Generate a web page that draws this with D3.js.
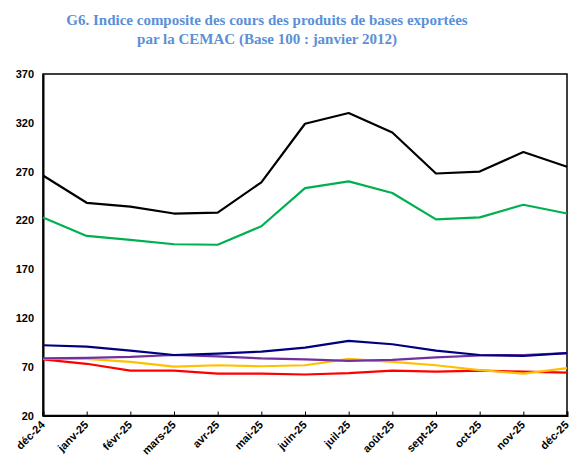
<!DOCTYPE html>
<html><head><meta charset="utf-8">
<script src="https://cdn.jsdelivr.net/npm/d3@7"></script>
<style>body{margin:0;background:#fff}</style>
</head><body>
<script>
const categories = ["déc-24","janv-25","févr-25","mars-25","avr-25","mai-25","juin-25","juil-25","août-25","sept-25","oct-25","nov-25","déc-25"];
const seriesBlack  = [266, 238, 234, 227, 228, 259, 319, 330, 310, 268, 270, 290, 275];
const seriesGreen  = [223, 204, 200, 195.5, 195, 214, 253, 260, 248, 221, 223, 236, 227];
const seriesNavy   = [92, 90.5, 86.5, 82, 83.5, 85.5, 89.5, 96.5, 93, 86.5, 82, 81, 84];
const seriesPurple = [78.5, 79, 80, 82, 80.5, 78.5, 77.5, 76, 77, 79.5, 81.5, 82, 84];
const seriesYellow = [78, 78, 75, 70, 71.5, 70.5, 71.5, 78, 75, 71.5, 66.5, 63, 68.5];
const seriesRed    = [77.5, 73, 66, 66, 63, 63, 62, 63.5, 66, 65, 66, 65, 64];
const yTicks = [20, 70, 120, 170, 220, 270, 320, 370];
const titleLines = ["G6. Indice composite des cours des produits de bases exportées", "par la CEMAC (Base 100 : janvier 2012)"];

const W = 573, H = 459;
const m = {left: 43, right: 6, top: 74, bottom: 44};
const svg = d3.select("body").append("svg").attr("width", W).attr("height", H);

svg.selectAll("text.title").data(titleLines).enter().append("text")
  .attr("x", 267).attr("y", (d,i) => 25 + i*19)
  .attr("text-anchor", "middle")
  .style("font-family", "'Liberation Serif','Times New Roman',serif")
  .style("font-weight", "bold").style("font-size", "15px")
  .attr("fill", "#5B8FD8").text(d => d);

const x = d3.scalePoint().domain(categories).range([m.left, W - m.right]);
const y = d3.scaleLinear().domain([20, 370]).range([H - m.bottom + 0.5, m.top]);

const g = svg.append("g");
// frame
g.append("rect").attr("x", m.left).attr("y", m.top)
  .attr("width", W - m.right - m.left).attr("height", y(20) - m.top)
  .attr("fill", "none").attr("stroke", "#000").attr("stroke-width", 1.5);

// y axis
const yAxis = d3.axisLeft(y).tickValues(yTicks).tickSize(0).tickPadding(9);
const ya = g.append("g").attr("transform", `translate(${m.left},0)`).call(yAxis);
ya.select(".domain").attr("stroke", "#000").attr("stroke-width", 2);
ya.selectAll("text").style("font-family", "'Liberation Sans',Arial,sans-serif")
  .style("font-weight", "bold").style("font-size", "11px").attr("fill", "#000");

// x axis
const xAxis = d3.axisBottom(x).tickSize(-4).tickPadding(0);
const xa = g.append("g").attr("transform", `translate(0,${y(20)})`).call(xAxis);
xa.select(".domain").attr("stroke", "#000").attr("stroke-width", 2);
xa.selectAll(".tick line").attr("stroke", "#000");
xa.selectAll("text").style("font-family", "'Liberation Sans',Arial,sans-serif")
  .style("font-weight", "bold").style("font-size", "11px").attr("fill", "#000")
  .attr("text-anchor", "end").attr("dy", null).attr("y", 0)
  .attr("transform", "translate(2,10) rotate(-45)");

const series = [
  {v: seriesBlack, c: "#000000"},
  {v: seriesGreen, c: "#00B050"},
  {v: seriesRed, c: "#FF0000"},
  {v: seriesYellow, c: "#FFC000"},
  {v: seriesPurple, c: "#7030A0"},
  {v: seriesNavy, c: "#000080"}
];
const line = d3.line().x((d,i) => x(categories[i])).y(d => y(d));
g.selectAll("path.s").data(series).enter().append("path")
  .attr("class", "s").attr("d", d => line(d.v))
  .attr("fill", "none").attr("stroke", d => d.c).attr("stroke-width", 2.2)
  .attr("stroke-linejoin", "round");
</script>
</body></html>
